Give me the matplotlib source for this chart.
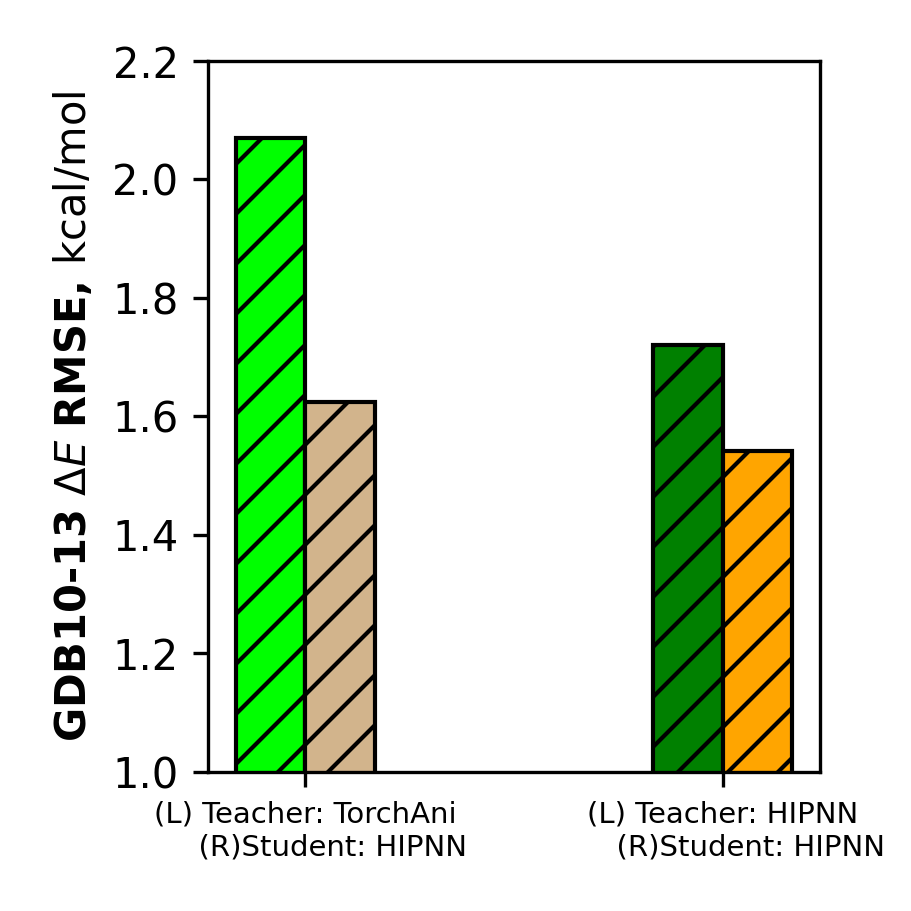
import numpy as np
import matplotlib
matplotlib.use("Agg")
import matplotlib.pyplot as plt

# GDB10-13 energy RMSE for teacher (left) and student (right) models
groups = ["(L) Teacher: TorchAni\n      (R)Student: HIPNN",
          "(L) Teacher: HIPNN\n      (R)Student: HIPNN"]
teacher_rmse = [2.070, 1.721]
student_rmse = [1.625, 1.542]
teacher_colors = ["lime", "green"]
student_colors = ["tan", "orange"]

fig = plt.figure(figsize=(911 / 300, 911 / 300), dpi=300)
ax = fig.add_subplot(111)
fig.subplots_adjust(left=0.228, right=0.900, top=0.933, bottom=0.153)

x = np.arange(len(groups))
w = 1 / 6
ax.bar(x - w / 2, teacher_rmse, width=w, color=teacher_colors,
       edgecolor="black", hatch="//")
ax.bar(x + w / 2, student_rmse, width=w, color=student_colors,
       edgecolor="black", hatch="//")

ax.set_ylim(1.0, 2.2)
ax.set_yticks([1.0, 1.2, 1.4, 1.6, 1.8, 2.0, 2.2])
ax.set_xticks(x)
ax.set_xticklabels(groups, fontsize=7)
ax.set_ylabel(r"$\bf{GDB10‐13}$ $\mathit{\Delta E}$ $\bf{RMSE,}\,$kcal/mol")

plt.savefig("out.png", dpi=300)
